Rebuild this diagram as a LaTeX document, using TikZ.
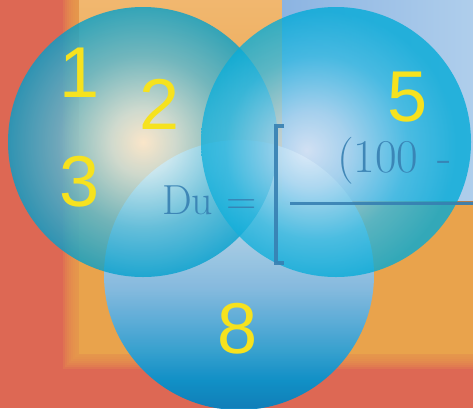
\documentclass[tikz,border=0pt]{standalone}
\usepackage{fontspec}
\newfontfamily\digitfont{Liberation Sans}

\definecolor{bgred}{RGB}{221,104,84}
\definecolor{bgorange}{RGB}{233,163,76}
\definecolor{bgorangetop}{RGB}{241,184,112}
\definecolor{panelleft}{RGB}{140,180,226}
\definecolor{panelright}{RGB}{176,207,236}
\definecolor{panelshadow}{RGB}{140,100,80}
\definecolor{numyellow}{RGB}{246,226,30}
\definecolor{inkblue}{RGB}{55,128,178}

\pgfdeclareradialshading{bubbleone}{\pgfpoint{0bp}{0bp}}{%
  color(0bp)=(rgb,255:red,255;green,248;blue,235);
  color(6bp)=(rgb,255:red,200;green,232;blue,240);
  color(16bp)=(rgb,255:red,80;green,185;blue,215);
  color(25bp)=(rgb,255:red,0;green,160;blue,205);
  color(50bp)=(rgb,255:red,0;green,160;blue,205)}
\pgfdeclareradialshading{bubbletwo}{\pgfpoint{-5.5bp}{-1.5bp}}{%
  color(0bp)=(rgb,255:red,228;green,236;blue,248);
  color(7bp)=(rgb,255:red,170;green,215;blue,240);
  color(17bp)=(rgb,255:red,50;green,185;blue,225);
  color(25bp)=(rgb,255:red,0;green,170;blue,215);
  color(50bp)=(rgb,255:red,0;green,170;blue,215)}
\pgfdeclareverticalshading{bubblethree}{100bp}{%
  color(0bp)=(rgb,255:red,0;green,128;blue,192);
  color(25bp)=(rgb,255:red,0;green,128;blue,192);
  color(30.5bp)=(rgb,255:red,0;green,148;blue,208);
  color(40bp)=(rgb,255:red,70;green,170;blue,225);
  color(47.5bp)=(rgb,255:red,125;green,188;blue,235);
  color(60bp)=(rgb,255:red,175;green,215;blue,242);
  color(75bp)=(rgb,255:red,210;green,235;blue,250);
  color(100bp)=(rgb,255:red,210;green,235;blue,250)}

\begin{document}
\begin{tikzpicture}[x=1pt,y=-1pt,
  digit/.style={text=numyellow, font=\digitfont\fontsize{72}{72}\selectfont, inner sep=0pt},
  formula/.style={text=inkblue, text opacity=0.9, font=\fontsize{42}{48}\selectfont, inner sep=0pt, anchor=base west},
  stroke/.style={draw=inkblue, draw opacity=0.9, line width=3.5pt},
  bubble/.style={opacity=#1}, bubble/.default=0.78]
  \useasboundingbox (0,0) rectangle (473,408);
  \clip (0,0) rectangle (473,408);

  \fill[bgred] (0,0) rectangle (473,408);
  \foreach \d in {0,...,7}
    \fill[bgorange, fill opacity=0.2] (63+2*\d,-5) rectangle (480,369-2*\d);
  \shade[top color=bgorangetop, bottom color=bgorange, middle color=bgorange] (79,-5) rectangle (480,353);

  \fill[panelshadow, fill opacity=0.6] (282,199) rectangle (480,205);
  \shade[left color=panelleft, right color=panelright] (282,-5) rectangle (480,200);

  \shade[bubble=0.92, shading=bubblethree] (239,275) circle (135pt);
  \shade[bubble, shading=bubbleone] (143,142) circle (135pt);
  \shade[bubble, shading=bubbletwo] (336,142) circle (135pt);

  \node[digit] (one) at (80,73) {1};
  \node[digit] (two) at (160,104) {2};
  \node[digit] (three) at (80,182) {3};
  \node[digit] (five) at (408,97) {5};
  \node[digit] (eight) at (238,329) {8};

  \node[formula] (lhs) at (162,214) {Du =};
  \node[formula, font=\fontsize{47}{52}\selectfont] (numer) at (337,172) {(100\hspace{0.4em}-};
  \draw[stroke] (284,126) -- (276,126) -- (276,263) -- (284,263);
  \draw[stroke, line width=3pt] (290,203) -- (480,203);
\end{tikzpicture}
\end{document}
